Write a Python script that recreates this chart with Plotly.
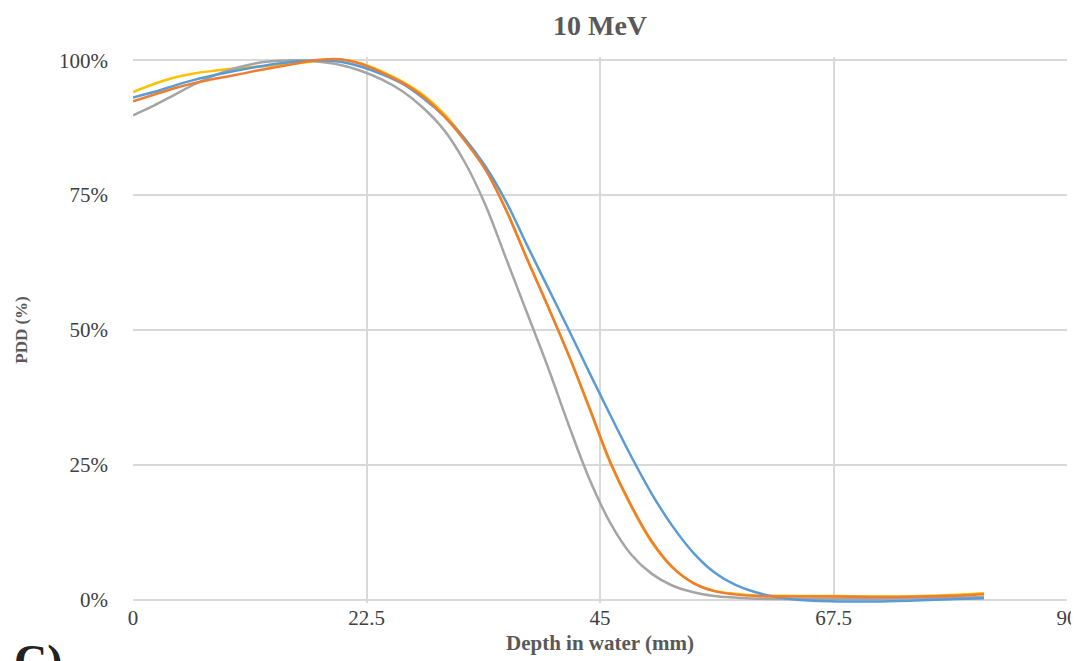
import plotly.graph_objects as go

# Depth (mm) grid and PDD (%) per curve
depth = [0, 2, 4, 6, 8, 10, 12, 14, 16, 18, 20, 22, 24, 26, 28, 30, 32, 34, 36, 38,
         40, 42, 44, 46, 48, 50, 52, 54, 56, 58, 60, 62, 64, 68, 72, 76, 80, 82]

pdd_orange = [92.4, 93.6, 94.8, 95.8, 96.6, 97.3, 98.1, 98.8, 99.5, 100.1, 100.2, 99.3, 97.7, 95.8, 93.2, 89.6, 85.0, 79.6, 72.0, 63.0,
              54.3, 45.3, 35.5, 25.5, 17.5, 10.8, 6.0, 3.1, 1.6, 1.0, 0.7, 0.6, 0.6, 0.6, 0.5, 0.6, 0.8, 1.0]

pdd_yellow = [94.1, 95.6, 96.8, 97.6, 98.1, 98.5, 98.8, 99.1, 99.5, 99.9, 100.1, 99.4, 97.9, 96.0, 93.5, 90.0, 85.3, 79.8, 72.1, 63.1,
              54.3, 45.2, 35.3, 25.3, 17.3, 10.6, 5.9, 3.1, 1.7, 1.1, 0.8, 0.75, 0.7, 0.7, 0.6, 0.7, 1.0, 1.2]

pdd_blue = [93.1, 94.1, 95.3, 96.4, 97.3, 98.1, 98.8, 99.4, 99.8, 100.0, 99.7, 98.8, 97.4, 95.6, 92.9, 89.6, 85.4, 80.2, 73.6, 65.6,
            57.8, 50.0, 42.0, 34.2, 26.6, 19.6, 13.6, 8.7, 5.1, 2.8, 1.4, 0.5, 0.0, -0.3, -0.3, -0.1, 0.2, 0.3]

pdd_grey = [89.8, 91.6, 93.6, 95.6, 97.3, 98.6, 99.5, 99.9, 100.0, 99.7, 99.1, 98.0, 96.4, 94.2, 91.1, 87.0, 81.0, 73.0, 63.0, 53.0,
            43.0, 32.3, 22.3, 14.2, 8.4, 4.8, 2.6, 1.4, 0.7, 0.4, 0.2, 0.15, 0.1, 0.2, 0.2, 0.3, 0.4, 0.5]

x_ticks = [0, 22.5, 45, 67.5, 90]
x_tick_labels = ["0", "22.5", "45", "67.5", "90"]
y_ticks = [0, 25, 50, 75, 100]
y_tick_labels = ["0%", "25%", "50%", "75%", "100%"]

series = [
    ("yellow", pdd_yellow, "#FFC000"),
    ("grey", pdd_grey, "#A5A5A5"),
    ("blue", pdd_blue, "#5B9BD5"),
    ("orange", pdd_orange, "#ED7D31"),
]

fig = go.Figure()
for name, ys, col in series:
    fig.add_trace(go.Scatter(
        x=depth, y=ys, mode="lines", name=name,
        line=dict(color=col, width=2.5, shape="spline", smoothing=1.0),
        showlegend=False,
    ))

serif = "Liberation Serif, Times New Roman, serif"
# the page body adds an 8px offset, so the figure is drawn 8px smaller
W, H = 1071, 653
L, R = 125, 12
ylo, yhi = -0.6, 100.6
plot_h = 540 * (yhi - ylo) / 100
top = 52 - 540 * (yhi - 100) / 100
bottom = H - (top + plot_h)
plot_w = W - L - R


def py_to_paper(py):
    return (top + plot_h - py) / plot_h


def px_to_paper(px):
    return (px - L) / plot_w


fig.update_layout(
    width=W, height=H,
    margin=dict(l=L, r=R, t=top, b=bottom, pad=0, autoexpand=False),
    paper_bgcolor="white", plot_bgcolor="white",
    title=dict(text="<b>10 MeV</b>", x=0.5, xref="paper", xanchor="center",
               y=1 - 17 / H, yref="container", yanchor="middle",
               font=dict(family=serif, size=28, color="#595959")),
    xaxis=dict(range=[0, 90], tickvals=x_ticks, ticktext=x_tick_labels,
               showgrid=True, gridcolor="#D9D9D9", gridwidth=1.5,
               zeroline=False, showline=False, automargin=False,
               tickfont=dict(family=serif, size=21, color="#404040"),
               ticks="", ticklabelstandoff=0,
               title=dict(text="<b>Depth in water (mm)</b>", standoff=6,
                          font=dict(family=serif, size=21, color="#595959"))),
    yaxis=dict(range=[ylo, yhi], tickvals=y_ticks, ticktext=y_tick_labels,
               showgrid=True, gridcolor="#D9D9D9", gridwidth=1.5,
               zeroline=False, showline=False, automargin=False,
               tickfont=dict(family=serif, size=21, color="#404040"),
               ticks="", ticklabelstandoff=24,
               title=dict(text="<b>PDD (%)</b>", standoff=27,
                          font=dict(family=serif, size=17, color="#595959"))),
    annotations=[dict(text="<b>C)</b>", x=px_to_paper(4), y=py_to_paper(626),
                      xref="paper", yref="paper", xanchor="left", yanchor="top",
                      showarrow=False, font=dict(family=serif, size=46, color="#222222"))],
)

fig.write_html("out.html")
